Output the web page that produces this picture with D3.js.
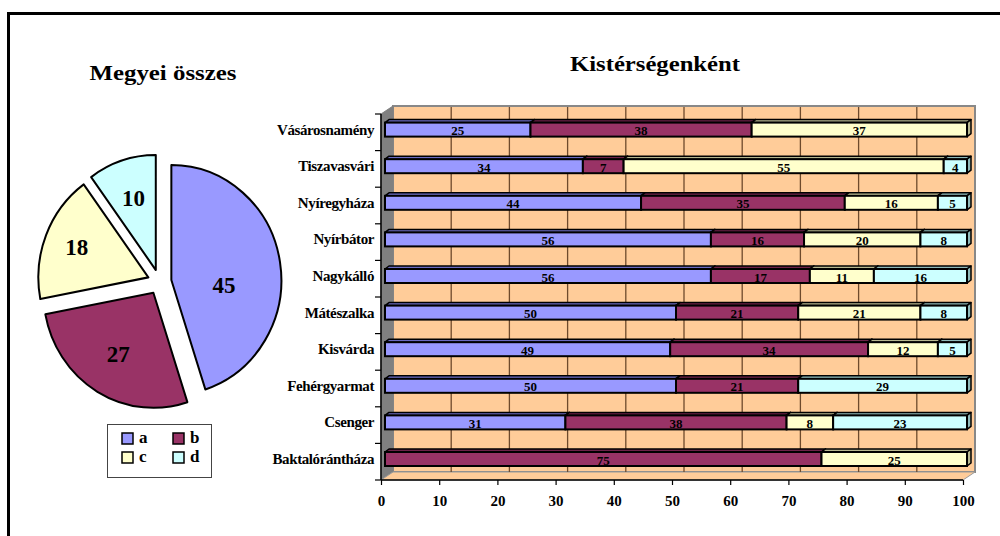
<!DOCTYPE html>
<html><head><meta charset="utf-8">
<script src="https://cdn.jsdelivr.net/npm/d3@7"></script>
<style>body{margin:0;background:#fff}svg{display:block}
svg text{font-family:"Liberation Serif","Times New Roman",Times,"DejaVu Serif",serif !important;font-weight:bold}</style>
</head><body><svg id="c" width="1000" height="536"></svg>
<script>
const seriesNames = ["a","b","c","d"];
const pieValues = [45,27,18,10];
const categories = ["Vásárosnamény","Tiszavasvári","Nyíregyháza","Nyírbátor","Nagykálló","Mátészalka","Kisvárda","Fehérgyarmat","Csenger","Baktalórántháza"];
const valuesA = [25,34,44,56,56,50,49,50,31,0];
const valuesB = [38,7,35,16,17,21,34,21,38,75];
const valuesC = [37,55,16,20,11,21,12,0,8,25];
const valuesD = [0,4,5,8,16,8,5,29,23,0];
const xTicks = [0,10,20,30,40,50,60,70,80,90,100];

const colors = ["#9999FF","#993366","#FFFFCC","#CCFFFF"];
const darkColors = ["#6B6BC0","#6E2249","#B8B890","#8FBABA"];
const pieLabelRadius = [53,69,77,72];
const pieLabelAngleShift = [15,0,0,0];

const svg = d3.select("#c");
svg.append("rect").attr("x",8.5).attr("y",13.5).attr("width",1010).attr("height",600)
  .attr("fill","none").attr("stroke","#000").attr("stroke-width",3);

// ---------- PIE ----------
const pc = {x:159.5, y:282}, R = 110, sy = 115/110, explode = 12;
const pie = d3.pie().sort(null).value(d=>d);
const arc = d3.arc().innerRadius(0).outerRadius(R);
const arcs = pie(pieValues);
const pg = svg.append("g").attr("transform",`translate(${pc.x},${pc.y}) scale(1,${sy})`);
const pl = svg.append("g").attr("transform",`translate(${pc.x},${pc.y})`);
arcs.forEach((a,i)=>{
  const mid=(a.startAngle+a.endAngle)/2;
  const ox=Math.sin(mid)*explode, oy=-Math.cos(mid)*explode;
  pg.append("path").attr("transform",`translate(${ox},${oy})`).attr("d",arc(a))
    .attr("fill",colors[i]).attr("stroke","#000").attr("stroke-width",2).attr("stroke-linejoin","round");
  const la = mid + pieLabelAngleShift[i]*Math.PI/180, lr = pieLabelRadius[i];
  pl.append("text").attr("x",ox+Math.sin(la)*lr).attr("y",(oy-Math.cos(la)*lr)*sy)
    .attr("text-anchor","middle").attr("dominant-baseline","central")
    .attr("font-size",23).text(pieValues[i]);
});
svg.append("text").attr("x",163).attr("y",80).attr("text-anchor","middle").attr("font-size",21)
  .attr("textLength",147).attr("lengthAdjust","spacingAndGlyphs").text("Megyei összes");

// legend
const lg = svg.append("g");
lg.append("rect").attr("x",107.5).attr("y",424.5).attr("width",104).attr("height",53).attr("fill","#fff").attr("stroke","#444").attr("stroke-width",1);
seriesNames.forEach((n,i)=>{
  const col=i%2,row=Math.floor(i/2);
  const x=122+col*51,y=433+row*19;
  lg.append("rect").attr("x",x).attr("y",y).attr("width",11).attr("height",11).attr("fill",colors[i]).attr("stroke","#000").attr("stroke-width",1.5);
  lg.append("text").attr("x",x+17).attr("y",y+10).attr("font-size",17).text(n);
});

// ---------- BAR CHART ----------
svg.append("text").attr("x",655).attr("y",71).attr("text-anchor","middle").attr("font-size",21)
  .attr("textLength",170).attr("lengthAdjust","spacingAndGlyphs").text("Kistérségenként");

const x = d3.scaleLinear().domain([0,100]).range([381,963]);
const y = d3.scaleBand().domain(categories).range([114,480]).padding(0);
const DX=12, DY=-8;
const x0=x(0),x1=x(100),yT=y.range()[0],yB=y.range()[1];

svg.append("rect").attr("x",x0+DX).attr("y",yT+DY).attr("width",x1-x0).attr("height",yB-yT)
  .attr("fill","#FFCC99").attr("stroke","#888").attr("stroke-width",2);
svg.append("path").attr("d",`M${x0},${yT}L${x0+DX},${yT+DY}L${x0+DX},${yB+DY}L${x0},${yB}Z`).attr("fill","#808080").attr("stroke","#808080");
svg.append("path").attr("d",`M${x0},${yB}L${x0+DX},${yB+DY}L${x1+DX},${yB+DY}L${x1},${yB}Z`).attr("fill","#FFCC99").attr("stroke","#999").attr("stroke-width",1);
svg.append("g").selectAll("line").data(xTicks.slice(1,-1)).join("line")
  .attr("x1",d=>x(d)+DX).attr("x2",d=>x(d)+DX).attr("y1",yT+DY+1).attr("y2",yB+DY)
  .attr("stroke","#6e4a2c").attr("stroke-width",1.3);

const bdx=4, bdy=-3, bh=14, bOffX=4, bOffY=-2.7;
const allSeries=[valuesA,valuesB,valuesC,valuesD];
const bg=svg.append("g");
categories.forEach((cat,ci)=>{
  let cum=0;
  const yc=y(cat)+y.bandwidth()/2+bOffY;
  const top=yc-bh/2;
  allSeries.forEach((vals,si)=>{
    const v=vals[ci]; if(!v) return;
    const xa=x(cum)+bOffX, xb=x(cum+v)+bOffX;
    cum+=v;
    bg.append("path").attr("d",`M${xa},${top}L${xa+bdx},${top+bdy}L${xb+bdx},${top+bdy}L${xb},${top}Z`)
      .attr("fill",darkColors[si]).attr("stroke","#000").attr("stroke-width",1.5).attr("stroke-linejoin","round");
    bg.append("path").attr("d",`M${xb},${top}L${xb+bdx},${top+bdy}L${xb+bdx},${top+bh+bdy}L${xb},${top+bh}Z`)
      .attr("fill",darkColors[si]).attr("stroke","#000").attr("stroke-width",1.5).attr("stroke-linejoin","round");
    bg.append("rect").attr("x",xa).attr("y",top).attr("width",xb-xa).attr("height",bh)
      .attr("fill",colors[si]).attr("stroke","#000").attr("stroke-width",2);
    bg.append("text").attr("x",(xa+xb)/2).attr("y",yc+1).attr("text-anchor","middle").attr("dominant-baseline","central")
      .attr("font-size",13).attr("fill","#000").text(v);
  });
});

const xAxis = d3.axisBottom(x).tickValues(xTicks).tickSize(5).tickPadding(10);
const xg=svg.append("g").attr("transform",`translate(0,${yB})`).call(xAxis);
xg.select(".domain").attr("stroke","#000").attr("stroke-width",1.5).attr("d",`M${x0},0H${x1}`);
xg.selectAll(".tick line").attr("stroke","#000").attr("stroke-width",1.2);
xg.selectAll("text").attr("font-size",15).attr("fill","#000");

const yAxis = d3.axisLeft(y).tickSize(0).tickPadding(7);
const yg=svg.append("g").attr("transform",`translate(${x0},0)`).call(yAxis);
yg.select(".domain").attr("stroke","#000").attr("stroke-width",1.5).attr("d",`M0,${yT}V${yB}`);
yg.selectAll("text").attr("font-size",15).attr("fill","#000").attr("dy","0.15em").attr("letter-spacing","-0.4");
svg.append("g").selectAll("line").data(d3.range(categories.length+1)).join("line")
  .attr("x1",x0-6).attr("x2",x0).attr("y1",i=>yT+i*y.step()).attr("y2",i=>yT+i*y.step())
  .attr("stroke","#000").attr("stroke-width",1.2);
</script></body></html>
